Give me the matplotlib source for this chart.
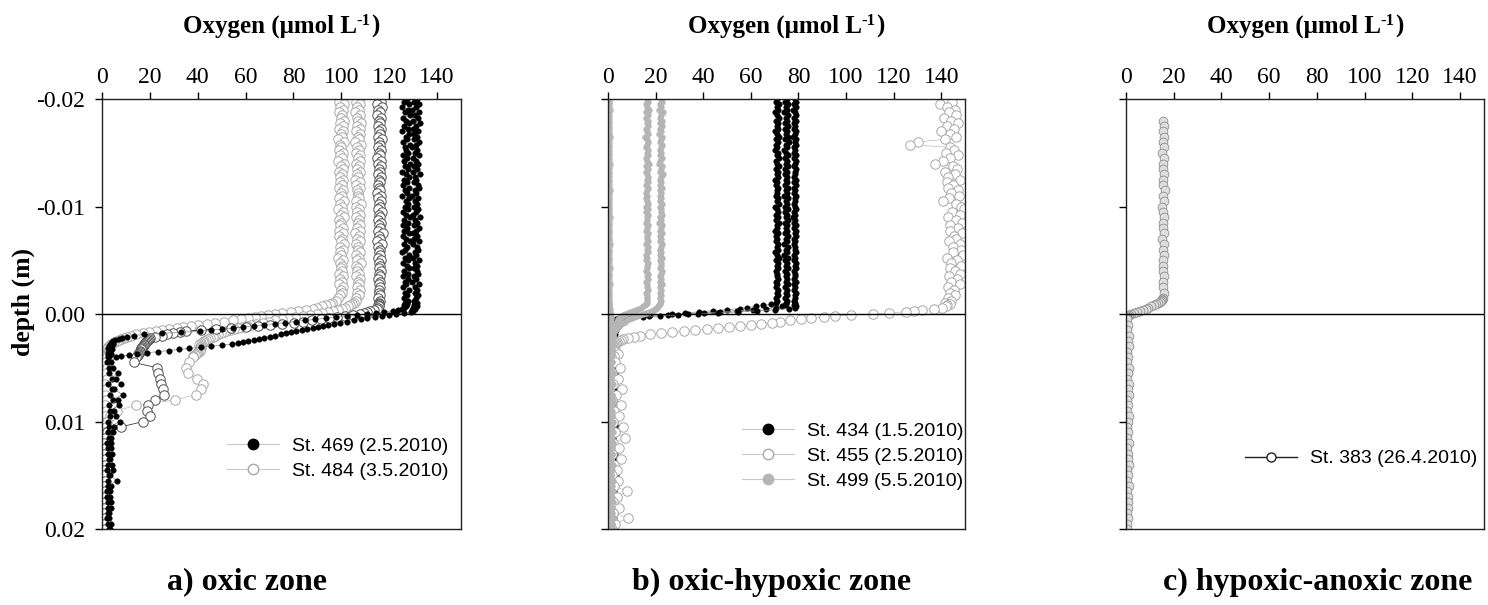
import numpy as np
import matplotlib
matplotlib.use("Agg")
import matplotlib.pyplot as plt
from matplotlib.lines import Line2D

plt.rcParams['font.family'] = 'Liberation Serif'
plt.rcParams['axes.unicode_minus'] = False

# ---------------- data (depth in mm, oxygen in umol/L) ----------------
depth_mm = [
    -20.0, -19.75, -19.5, -19.25, -19.0, -18.75, -18.5, -18.25,
    -18.0, -17.75, -17.5, -17.25, -17.0, -16.75, -16.5, -16.25,
    -16.0, -15.75, -15.5, -15.25, -15.0, -14.75, -14.5, -14.25,
    -14.0, -13.75, -13.5, -13.25, -13.0, -12.75, -12.5, -12.25,
    -12.0, -11.75, -11.5, -11.25, -11.0, -10.75, -10.5, -10.25,
    -10.0, -9.75, -9.5, -9.25, -9.0, -8.75, -8.5, -8.25,
    -8.0, -7.75, -7.5, -7.25, -7.0, -6.75, -6.5, -6.25,
    -6.0, -5.75, -5.5, -5.25, -5.0, -4.75, -4.5, -4.25,
    -4.0, -3.75, -3.5, -3.25, -3.0, -2.75, -2.5, -2.25,
    -2.0, -1.75, -1.5, -1.25, -1.0,
    -0.9, -0.8, -0.7, -0.6, -0.5, -0.4, -0.3, -0.2, -0.1, 0.0,
    0.1, 0.2, 0.3, 0.4, 0.5, 0.6, 0.7, 0.8, 0.9, 1.0,
    1.1, 1.2, 1.3, 1.4, 1.5, 1.6, 1.7, 1.8, 1.9, 2.0,
    2.1, 2.2, 2.3, 2.4, 2.5, 2.6, 2.7, 2.8, 2.9, 3.0,
    3.1, 3.2, 3.3, 3.4, 3.5, 3.6, 3.7, 3.8, 3.9, 4.0,
    4.5, 5.0, 5.5, 6.0, 6.5, 7.0, 7.5, 8.0, 8.5, 9.0,
    9.5, 10.0, 10.5, 11.0, 11.5, 12.0, 12.5, 13.0, 13.5, 14.0,
    14.5, 15.0, 15.5, 16.0, 16.5, 17.0, 17.5, 18.0, 18.5, 19.0,
    19.5, 20.0]

# Panel a: St. 469 (two replicate profiles)
st469_rep1 = [
    131.5, 130.2, 132.6, 131.0, 129.6, 132.3, 130.8, 131.9,
    130.1, 132.8, 131.2, 129.8, 132.0, 130.5, 131.7, 130.3,
    132.4, 131.1, 129.7, 131.8, 130.6, 132.5, 130.0, 131.4,
    132.1, 130.4, 131.6, 129.9, 132.7, 130.9, 131.3, 130.2,
    131.9, 132.6, 130.7, 131.2, 129.5, 132.2, 130.8, 131.6,
    130.3, 132.0, 131.4, 130.0, 132.9, 130.6, 131.8, 130.4,
    132.3, 131.0, 129.8, 131.7, 130.5, 132.4, 130.1, 131.5,
    132.0, 130.7, 131.3, 129.9, 132.6, 130.9, 131.8, 130.2,
    131.6, 132.1, 130.4, 131.2, 129.7, 132.3, 130.8, 131.5,
    130.6, 132.0, 131.1, 130.3, 131.7,
    131.2, 130.4, 131.6, 130.1, 130.8, 129.5, 130.0, 128.9, 126.2, 123.0,
    120.1, 116.8, 114.0, 110.9, 108.2, 105.1, 102.4, 99.6, 96.8, 94.5,
    92.4, 90.1, 88.0, 85.6, 83.5, 81.2, 79.1, 76.7, 74.6, 72.3,
    70.2, 67.8, 65.6, 63.5, 61.1, 59.0, 56.8, 54.5, 50.1, 45.6,
    41.2, 36.5, 32.1, 27.8, 23.2, 18.9, 14.8, 11.2, 8.1, 5.9,
    3.8, 2.9, 6.5, 4.2, 7.8, 5.1, 8.6, 4.4, 6.9, 3.5,
    5.8, 7.4, 3.1, 4.6, 2.8, 3.9, 2.5, 4.1, 3.3, 2.6,
    4.8, 3.0, 2.4, 3.7, 2.2, 3.2, 2.7, 3.9, 2.3, 3.1,
    2.6, 3.4]
st469_rep2 = [
    127.4, 126.0, 128.4, 125.5, 127.9, 126.7, 128.7, 125.8,
    127.2, 128.1, 126.3, 127.7, 125.2, 128.3, 126.9, 127.5,
    125.7, 128.5, 126.5, 127.1, 128.0, 125.6, 127.3, 126.2,
    128.6, 126.8, 127.8, 125.4, 127.0, 128.2, 126.1, 127.6,
    125.9, 128.4, 126.6, 127.4, 125.3, 128.1, 126.9, 127.7,
    126.4, 128.0, 125.6, 127.2, 128.5, 126.2, 127.9, 125.8,
    127.5, 126.3, 128.3, 125.7, 127.1, 128.6, 126.0, 127.6,
    126.8, 125.5, 128.2, 126.5, 127.8, 125.9, 127.3, 128.4,
    126.1, 127.7, 125.6, 128.0, 126.7, 127.2, 125.8, 128.1,
    126.6, 127.4, 126.0, 127.9, 126.8,
    127.5, 126.2, 127.1, 126.0, 125.4, 123.8, 121.5, 118.0, 114.6, 110.9,
    106.5, 102.2, 97.8, 93.6, 89.1, 84.7, 80.9, 76.4, 72.1, 67.8,
    63.5, 59.1, 54.8, 50.2, 45.6, 41.0, 33.2, 25.1, 17.4, 13.2,
    10.5, 8.4, 6.9, 5.6, 4.8, 4.1, 3.6, 4.4, 3.2, 2.9,
    3.5, 2.6, 4.0, 2.8, 3.3, 2.4, 3.8, 2.7, 3.1, 2.5,
    2.2, 4.6, 3.1, 5.9, 2.7, 4.3, 3.5, 6.8, 2.9, 5.2,
    3.4, 2.6, 4.9, 2.3, 3.6, 2.1, 3.8, 2.4, 2.9, 4.3,
    2.2, 3.5, 6.1, 2.5, 3.4, 2.1, 3.9, 2.6, 3.0, 2.2,
    3.6, 2.8]

# Panel a: St. 484 (three replicate profiles)
st484_rep1 = [
    100.2, 99.1, 101.0, 99.6, 100.7, 98.9, 100.4, 99.8,
    101.2, 99.3, 100.6, 99.0, 100.9, 99.7, 100.3, 98.8,
    101.1, 99.5, 100.0, 99.2, 100.8, 99.4, 100.1, 98.7,
    101.3, 99.9, 100.5, 99.1, 100.2, 99.6, 100.9, 99.3,
    100.4, 98.9, 100.7, 99.8, 100.1, 99.0, 101.0, 99.5,
    100.3, 98.8, 100.6, 99.7, 101.2, 99.2, 100.0, 99.4,
    100.8, 99.1, 100.5, 98.9, 100.2, 99.9, 101.1, 99.3,
    100.6, 99.6, 100.0, 98.8, 100.9, 99.4, 100.3, 99.8,
    100.1, 99.2, 100.7, 99.5, 100.4, 99.0, 100.8, 99.7,
    100.2, 99.6, 98.8, 97.6, 96.0,
    95.1, 93.6, 91.8, 90.0, 88.1, 85.2, 82.0, 78.9, 75.4, 72.1,
    69.3, 66.4, 63.8, 60.9, 58.0, 54.6, 51.0, 47.3, 43.9, 40.2,
    37.1, 34.0, 31.2, 28.1, 25.0, 22.4, 19.6, 17.0, 14.3, 12.1,
    10.6, 9.3, 8.1, 7.0, 6.1, 5.2, 4.5, 3.9, 3.4, 3.0,
    2.7, 2.5, 2.2, 2.4, 2.0, 2.3, 1.9, 2.1, 1.8, 2.0,
    1.7, 2.1, 1.5, 1.9, 1.4, 1.8, 1.3, 1.6, 1.2, 1.5,
    1.1, 1.4, 1.0, 1.3, 0.9, 1.2, 1.0, 1.3, 0.9, 1.1,
    1.0, 1.2, 0.8, 1.1, 0.9, 1.2, 1.0, 0.8, 1.1, 0.9,
    1.0, 0.8]
st484_rep2 = [
    107.3, 106.2, 108.0, 106.7, 107.5, 105.9, 107.8, 106.4,
    107.1, 108.2, 106.5, 107.6, 106.0, 107.9, 106.8, 107.2,
    105.8, 108.1, 106.6, 107.4, 106.3, 107.7, 106.9, 108.0,
    106.1, 107.3, 106.7, 107.9, 106.4, 107.0, 105.9, 107.6,
    106.2, 107.8, 106.5, 107.1, 106.8, 107.4, 106.3, 108.1,
    106.0, 107.5, 106.6, 107.9, 106.2, 107.2, 106.9, 107.7,
    106.4, 108.0, 105.8, 107.3, 106.7, 107.6, 106.1, 107.0,
    106.8, 107.9, 106.3, 107.4, 106.5, 108.2, 106.0, 107.1,
    106.6, 107.5, 106.2, 107.8, 106.9, 107.2, 106.4, 107.6,
    106.7, 107.3, 106.1, 106.3, 105.2,
    104.6, 103.8, 102.7, 101.5, 100.2, 98.4, 96.5, 94.3, 92.1, 89.8,
    86.7, 83.9, 80.8, 77.9, 75.1, 72.4, 69.6, 67.1, 64.5, 62.2,
    60.4, 58.7, 57.0, 55.2, 53.6, 52.0, 50.9, 49.7, 48.5, 47.3,
    46.2, 45.1, 44.3, 43.6, 42.8, 42.1, 41.5, 41.0, 40.6, 41.2,
    40.8, 41.5, 40.9, 41.1, 40.2, 39.6, 39.1, 38.7, 38.2, 37.9,
    36.4, 35.2, 35.8, 39.5, 42.1, 41.3, 39.2, 30.4, 14.1, 6.2,
    3.3, 2.1, 1.6, 1.3, 1.5, 1.1, 1.4, 1.0, 1.3, 1.2,
    0.9, 1.3, 1.1, 1.4, 1.0, 1.2, 0.9, 1.3, 1.1, 1.0,
    1.2, 1.0]
st484_rep3 = [
    115.8, 116.4, 115.1, 116.9, 115.5, 116.2, 115.0, 116.6,
    115.7, 116.1, 115.3, 116.7, 115.9, 116.3, 115.2, 116.8,
    115.6, 116.0, 115.4, 116.5, 115.8, 116.2, 115.1, 116.7,
    115.5, 116.4, 115.9, 116.1, 115.3, 116.6, 115.7, 116.0,
    115.4, 115.8, 116.2, 115.1, 116.7, 115.5, 116.4, 115.9,
    116.1, 115.3, 116.8, 115.6, 116.3, 115.2, 116.5, 115.8,
    116.0, 115.4, 117.6, 115.7, 116.2, 115.0, 116.9, 115.5,
    116.3, 115.8, 116.1, 115.2, 116.4, 115.9, 116.0, 115.6,
    116.6, 115.7, 116.0, 115.2, 116.3, 115.8, 116.1, 115.6,
    115.9, 116.2, 115.5, 116.0, 115.9,
    115.7, 115.4, 115.9, 115.2, 114.8, 113.6, 112.1, 110.8, 109.5, 108.0,
    105.0, 101.6, 98.2, 95.0, 91.3, 87.6, 84.0, 80.1, 75.2, 70.1,
    65.0, 60.0, 53.8, 47.5, 41.2, 35.0, 32.4, 29.8, 27.3, 24.9,
    22.1, 20.0, 19.6, 19.1, 18.8, 18.4, 18.1, 17.7, 17.4, 17.0,
    16.8, 16.5, 16.2, 16.0, 15.7, 15.4, 15.2, 14.9, 14.6, 14.3,
    13.2, 23.0, 23.6, 24.1, 24.5, 25.3, 26.0, 22.1, 19.3, 19.0,
    20.1, 17.2, 8.0, 2.1, 1.3, 1.0, 1.2, 0.9, 1.1, 1.3,
    1.0, 0.8, 1.2, 1.0, 1.1, 0.9, 1.3, 1.0, 0.8, 1.1,
    0.9, 1.2]

# Panel b: St. 434 (three replicate profiles)
st434_rep1 = [
    71.2, 70.4, 71.8, 70.9, 71.5, 70.2, 71.0, 71.7,
    70.6, 71.3, 70.8, 71.6, 70.3, 71.1, 71.9, 70.5,
    71.4, 70.7, 71.2, 70.1, 71.5, 70.9, 71.7, 70.4,
    71.0, 71.8, 70.6, 71.3, 70.8, 71.6, 70.3, 71.1,
    70.7, 71.5, 70.9, 71.2, 70.5, 71.4, 70.8, 71.7,
    70.2, 71.0, 71.6, 70.6, 71.3, 70.4, 71.8, 70.9,
    71.1, 70.3, 71.5, 70.7, 71.2, 70.5, 71.4, 70.8,
    71.6, 70.1, 71.0, 71.7, 70.6, 71.3, 70.9, 71.5,
    70.4, 71.2, 70.8, 71.6, 70.5, 71.1, 70.7, 71.4,
    70.9, 71.3, 70.6, 71.0, 70.4,
    68.5, 65.1, 62.0, 58.4, 55.3, 50.2, 44.0, 38.1, 32.5, 27.0,
    17.8, 11.2, 6.4, 4.5, 3.2, 2.4, 5.1, 2.0, 3.8, 1.7,
    4.2, 1.5, 2.9, 1.3, 3.5, 1.6, 2.4, 1.2, 2.8, 1.4,
    2.1, 1.1, 1.9, 1.3, 2.5, 1.0, 1.8, 1.2, 1.6, 1.1,
    1.4, 1.0, 1.7, 1.2, 1.5, 1.0, 1.3, 1.1, 1.6, 1.2,
    2.6, 1.4, 3.1, 1.8, 2.4, 1.2, 3.5, 1.6, 2.2, 1.3,
    2.8, 1.5, 2.0, 3.3, 1.4, 2.5, 1.7, 3.0, 1.3, 2.3,
    1.6, 3.4, 1.5, 2.1, 1.2, 2.7, 1.8, 3.2, 1.4, 2.4,
    3.0, 2.2]
st434_rep2 = [
    75.1, 74.3, 75.8, 74.7, 75.4, 74.1, 75.6, 74.9,
    75.3, 74.5, 75.7, 74.2, 75.0, 74.8, 75.5, 74.4,
    75.9, 74.6, 75.2, 74.0, 74.9, 75.6, 74.3, 75.1,
    74.7, 75.8, 74.5, 75.3, 74.2, 75.4, 74.8, 75.2,
    74.4, 75.7, 74.6, 75.0, 74.1, 75.5, 74.9, 75.3,
    74.5, 75.8, 74.3, 75.1, 74.7, 75.6, 74.2, 75.4,
    74.8, 75.2, 74.4, 75.7, 74.6, 75.0, 74.1, 75.5,
    74.9, 75.3, 74.0, 75.6, 74.5, 75.1, 74.7, 75.8,
    74.3, 75.4, 74.8, 75.0, 74.6, 75.7, 74.2, 75.3,
    74.7, 75.1, 74.5, 75.2, 74.9,
    74.6, 74.2, 73.1, 70.5, 66.2, 60.8, 54.1, 47.0, 40.2, 33.5,
    25.0, 17.1, 10.4, 6.1, 4.0, 2.7, 3.5, 1.9, 2.6, 1.5,
    2.2, 1.3, 3.0, 1.6, 2.0, 1.1, 1.8, 1.4, 2.3, 1.2,
    1.7, 1.0, 1.5, 1.9, 1.1, 1.6, 1.3, 1.8, 1.0, 1.4,
    1.2, 1.7, 1.0, 1.5, 1.3, 1.8, 1.1, 1.4, 1.0, 1.3,
    1.6, 2.4, 1.2, 2.0, 1.4, 2.6, 1.3, 1.9, 1.1, 2.2,
    1.5, 2.9, 1.3, 1.8, 1.0, 2.1, 1.4, 1.7, 2.6, 1.2,
    2.3, 1.5, 1.9, 1.1, 2.4, 1.3, 2.0, 1.5, 2.8, 1.4,
    1.8, 2.6]
st434_rep3 = [
    78.4, 79.0, 78.1, 78.8, 77.9, 78.6, 79.2, 78.3,
    78.9, 78.0, 78.7, 78.2, 79.1, 78.5, 77.8, 78.9,
    78.4, 79.0, 78.1, 78.6, 78.3, 78.8, 78.0, 79.2,
    78.5, 78.1, 78.9, 78.4, 78.7, 78.2, 79.0, 78.3,
    78.9, 78.3, 78.6, 78.0, 78.8, 78.4, 78.7, 78.1,
    78.5, 79.1, 78.2, 78.7, 77.9, 78.6, 78.3, 78.9,
    78.0, 78.8, 78.4, 79.0, 78.2, 78.6, 78.1, 78.7,
    78.5, 78.9, 78.3, 78.6, 78.0, 78.8, 78.4, 79.1,
    78.2, 78.7, 78.5, 78.0, 78.9, 78.3, 78.6, 78.1,
    78.8, 78.4, 78.7, 78.1, 78.5,
    78.6, 78.2, 78.8, 78.4, 76.0, 70.2, 62.5, 54.8, 46.1, 37.9,
    29.4, 21.8, 14.7, 9.2, 5.6, 3.8, 2.6, 4.3, 2.1, 3.2,
    1.7, 2.5, 1.4, 2.9, 1.5, 2.2, 1.2, 2.0, 1.3, 1.8,
    1.1, 1.6, 2.4, 1.2, 1.7, 1.3, 2.1, 1.0, 1.5, 1.9,
    1.1, 1.4, 2.2, 1.0, 1.6, 1.2, 1.9, 1.3, 1.5, 1.1,
    2.1, 1.3, 1.8, 2.9, 1.5, 1.9, 1.1, 2.7, 1.6, 1.2,
    2.0, 1.4, 3.6, 1.5, 2.2, 1.3, 1.9, 1.1, 2.4, 1.6,
    1.2, 2.1, 1.4, 2.9, 1.3, 1.8, 1.0, 2.2, 1.5, 1.9,
    2.3, 3.1]

# Panel b: St. 455
st455 = [
    141.8, 144.5, 139.3, 142.6, 145.9, 143.1, 146.4, 141.2,
    144.0, 147.1, 142.3, 145.5, 139.8, 143.7, 146.2, 141.6,
    130.2, 127.1, 143.9, 145.3, 142.0, 147.2, 143.6, 140.8,
    137.4, 144.8, 146.6, 141.5, 145.7, 143.0, 148.1, 142.4,
    145.1, 142.7, 146.9, 144.2, 147.5, 143.3, 140.6, 146.1,
    148.4, 149.6, 144.6, 147.8, 142.9, 146.3, 148.6, 143.5,
    147.0, 143.8, 148.9, 145.4, 146.2, 143.1, 147.7, 144.9,
    148.2, 145.0, 149.1, 142.5, 146.8, 144.3, 148.5, 143.9,
    145.6, 147.9, 143.2, 146.7, 144.0, 148.0, 142.8, 145.3,
    143.6, 146.0, 142.7, 144.3, 141.5,
    143.6, 142.4, 141.9, 140.5, 136.8, 132.0, 128.6, 125.1, 118.0, 111.2,
    102.1, 95.2, 90.6, 85.3, 81.0, 76.4, 72.1, 68.9, 64.2, 60.0,
    55.5, 50.8, 46.1, 41.5, 36.6, 31.8, 27.0, 22.4, 17.8, 13.4,
    11.0, 8.5, 6.3, 5.4, 4.6, 3.9, 3.4, 3.0, 2.6, 2.3,
    2.0, 1.8, 1.6, 1.5, 3.2, 1.4, 4.1, 1.2, 2.5, 1.3,
    2.8, 5.1, 1.7, 4.4, 2.1, 6.0, 3.3, 1.5, 5.6, 2.4,
    4.8, 1.9, 6.4, 3.0, 7.2, 2.2, 4.6, 1.6, 5.3, 2.7,
    3.9, 1.8, 4.2, 2.5, 8.1, 3.6, 1.9, 4.7, 2.3, 8.4,
    2.9, 1.7]

# Panel b: St. 499 (three replicate profiles)
st499_rep1 = [
    0.5, 0.3, 0.6, 0.4, 0.7, 0.5, 0.3, 0.6,
    0.4, 0.5, 0.6, 0.4, 0.5, 0.3, 0.7, 0.5,
    0.4, 0.6, 0.3, 0.5, 0.4, 0.6, 0.5, 0.3,
    0.7, 0.4, 0.5, 0.6, 0.3, 0.5, 0.4, 0.6,
    0.5, 0.3, 0.7, 0.4, 0.5, 0.6, 0.4, 0.5,
    0.3, 0.6, 0.5, 0.4, 0.7, 0.5, 0.3, 0.6,
    0.4, 0.5, 0.6, 0.3, 0.5, 0.4, 0.7, 0.5,
    0.6, 0.4, 0.5, 0.3, 0.6, 0.5, 0.4, 0.7,
    0.5, 0.3, 0.6, 0.4, 0.5, 0.7, 0.4, 0.5,
    0.6, 0.4, 0.5, 0.3, 0.5,
    0.5, 0.6, 0.4, 0.5, 0.7, 0.5, 0.6, 0.8, 0.7, 0.9,
    1.0, 0.8, 1.1, 0.9, 1.2, 1.0, 0.8, 1.1, 0.9, 1.0,
    1.2, 0.9, 1.1, 0.8, 1.0, 1.3, 0.9, 1.1, 1.0, 0.8,
    1.1, 0.9, 1.2, 1.0, 0.8, 1.1, 0.9, 1.3, 1.0, 1.2,
    0.9, 1.1, 1.0, 0.8, 1.2, 1.0, 0.9, 1.1, 1.3, 1.0,
    1.1, 0.9, 1.3, 1.0, 1.2, 0.8, 1.1, 1.4, 0.9, 1.2,
    1.0, 1.3, 0.9, 1.1, 1.5, 1.0, 1.2, 0.8, 1.1, 1.3,
    0.9, 1.2, 1.0, 1.4, 1.1, 0.8, 1.2, 1.0, 1.3, 0.9,
    1.1, 1.0]
st499_rep2 = [
    16.2, 16.8, 15.9, 16.5, 17.1, 16.0, 16.6, 15.8,
    16.9, 16.3, 16.7, 16.1, 16.4, 17.0, 15.7, 16.5,
    16.9, 16.2, 15.9, 16.6, 16.3, 16.8, 16.0, 16.5,
    17.2, 16.1, 16.7, 15.8, 16.4, 16.9, 16.2, 16.6,
    15.9, 16.8, 16.3, 16.0, 16.5, 16.1, 16.4, 16.7,
    16.0, 16.6, 15.8, 16.9, 16.3, 16.5, 16.1, 16.8,
    16.4, 15.9, 16.7, 16.2, 16.5, 17.0, 16.0, 16.6,
    16.3, 16.8, 15.9, 16.4, 16.1, 16.7, 16.2, 16.5,
    16.0, 16.6, 16.3, 16.9, 15.8, 16.4, 16.2, 16.7,
    16.1, 16.5, 16.3, 16.2, 16.4,
    16.0, 15.6, 14.8, 13.9, 12.8, 11.7, 10.5, 9.4, 8.3, 7.2,
    6.5, 6.0, 5.4, 4.9, 4.4, 4.0, 3.6, 3.3, 3.0, 2.7,
    2.5, 2.3, 2.1, 1.9, 1.7, 1.6, 1.5, 1.4, 1.3, 1.2,
    1.3, 1.1, 1.2, 1.4, 1.1, 1.3, 1.0, 1.2, 1.4, 1.1,
    1.3, 1.0, 1.2, 1.5, 1.1, 1.3, 1.0, 1.2, 1.4, 1.1,
    1.6, 1.2, 1.9, 1.4, 2.2, 1.3, 1.7, 2.0, 1.5, 1.8,
    1.3, 2.1, 1.6, 1.9, 1.4, 2.3, 1.5, 1.8, 1.2, 2.0,
    1.7, 1.4, 2.2, 1.6, 1.9, 1.3, 2.1, 1.5, 1.8, 2.4,
    1.6, 2.0]
st499_rep3 = [
    22.1, 22.6, 21.8, 22.4, 21.6, 22.9, 22.2, 21.7,
    22.5, 22.0, 22.7, 21.9, 22.3, 21.5, 22.8, 22.1,
    21.8, 22.6, 22.2, 21.7, 22.4, 21.9, 22.7, 22.0,
    21.6, 22.5, 22.2, 21.8, 22.9, 22.1, 21.7, 22.3,
    22.0, 22.6, 21.9, 22.4, 21.8, 22.2, 22.0, 22.6,
    21.7, 22.3, 22.1, 22.8, 21.9, 22.4, 21.6, 22.5,
    22.2, 21.8, 22.7, 22.0, 22.4, 21.9, 22.6, 22.1,
    21.7, 22.3, 22.0, 22.5, 21.8, 22.4, 22.2, 21.9,
    22.6, 22.1, 21.8, 22.3, 22.0, 22.5, 21.9, 22.2,
    21.7, 22.3, 22.0, 22.2, 22.0,
    21.8, 21.5, 21.0, 20.4, 19.8, 19.2, 18.5, 17.4, 16.1, 14.8,
    13.6, 12.3, 11.1, 10.0, 9.0, 8.0, 7.1, 6.3, 5.6, 5.0,
    4.5, 4.0, 3.6, 3.2, 2.9, 2.7, 2.5, 2.3, 2.1, 2.0,
    1.9, 1.8, 1.7, 1.6, 1.5, 1.6, 1.4, 1.5, 1.3, 1.4,
    1.6, 1.3, 1.5, 1.2, 1.4, 1.6, 1.3, 1.5, 1.2, 1.4,
    1.5, 1.3, 1.7, 1.2, 1.6, 1.4, 1.8, 1.3, 1.5, 1.2,
    1.6, 1.4, 1.3, 1.7, 1.2, 1.5, 1.4, 1.6, 1.3, 1.8,
    1.4, 1.2, 1.6, 1.3, 1.5, 1.7, 1.3, 1.4, 1.2, 1.6,
    1.5, 1.3]

# Panel c: St. 383
depth_c_mm = [
    -18.0, -17.5, -17.0, -16.5, -16.0, -15.5, -15.0, -14.5, -14.0, -13.5,
    -13.0, -12.5, -12.0, -11.5, -11.0, -10.5, -10.0, -9.5, -9.0, -8.5,
    -8.0, -7.5, -7.0, -6.5, -6.0, -5.5, -5.0, -4.5, -4.0, -3.5,
    -3.0, -2.5, -2.0, -1.5,
    -1.4, -1.3, -1.2, -1.1, -1.0, -0.9, -0.8, -0.7, -0.6, -0.5,
    -0.4, -0.3, -0.2, -0.1, 0.0, 0.1, 0.2, 0.3, 0.4, 0.5,
    1.0, 1.5, 2.0, 2.5, 3.0, 3.5, 4.0, 4.5, 5.0, 5.5,
    6.0, 6.5, 7.0, 7.5, 8.0, 8.5, 9.0, 9.5, 10.0, 10.5,
    11.0, 11.5, 12.0, 12.5, 13.0, 13.5, 14.0, 14.5, 15.0, 15.5,
    16.0, 16.5, 17.0, 17.5, 18.0, 18.5, 19.0, 19.5, 20.0]
st383 = [
    15.6, 15.9, 15.3, 16.1, 15.5, 15.8, 15.2, 16.0, 15.7, 15.4,
    15.9, 15.3, 15.6, 16.2, 15.5, 15.8, 15.1, 15.7, 16.0, 15.4,
    15.6, 15.9, 15.2, 15.8, 15.5, 16.1, 15.3, 15.7, 15.4, 15.9,
    15.6, 15.3, 15.8, 15.5,
    15.2, 15.0, 14.6, 14.1, 13.5, 12.7, 11.8, 10.6, 9.4, 8.2,
    7.0, 5.8, 4.6, 3.4, 2.3, 1.4, 0.9, 0.6, 0.5, 0.6,
    0.8, 0.5, 1.1, 0.7, 1.3, 0.6, 1.0, 0.4, 1.2, 0.8,
    0.5, 1.1, 0.7, 1.4, 0.6, 0.9, 0.3, 1.2, 0.8, 0.5,
    1.0, 0.6, 1.3, 0.4, 0.9, 0.7, 1.1, 0.5, 0.8, 0.6,
    1.2, 0.4, 0.9, 0.7, 1.0, 0.5, 0.8, 0.3, 0.6]

labels_a = ['St. 469 (2.5.2010)', 'St. 484 (3.5.2010)']
labels_b = ['St. 434 (1.5.2010)', 'St. 455 (2.5.2010)', 'St. 499 (5.5.2010)']
labels_c = ['St. 383 (26.4.2010)']
panel_names = ['a) oxic zone', 'b) oxic-hypoxic zone', 'c) hypoxic-anoxic zone']
xticks = [0, 20, 40, 60, 80, 100, 120, 140]
yticks = [-0.02, -0.01, 0.00, 0.01, 0.02]

# ---------------- styles ----------------
BLACK = dict(marker='o', ms=4.0, mfc='black', mec='black', mew=0.3,
             color='#8a8a8a', lw=0.5)
WHITE = dict(marker='o', ms=6.8, mfc='white', mec='#a8a8a8', mew=0.7,
             color='#bdbdbd', lw=0.5)
WHITE_DARK = dict(marker='o', ms=6.8, mfc='white', mec='#505050', mew=0.7,
                  color='#3a3a3a', lw=0.6)
GREY = dict(marker='o', ms=4.2, mfc='#b5b5b5', mec='#b5b5b5', mew=0.3,
            color='#b5b5b5', lw=1.4)
C383 = dict(marker='o', ms=6.3, mfc='#dedede', mec='#8e8e8e', mew=0.6,
            color='#6a6a6a', lw=0.5)


def draw(ax, o2, depth, style):
    assert len(o2) == len(depth)
    ax.plot(o2, np.asarray(depth) / 1000.0, **style)


fig = plt.figure(figsize=(14.88, 6.05), dpi=100)
W, H = 1488.0, 605.0
lefts = [102, 608, 1126]
widths = [359, 357, 358]
axes = []
for i in range(3):
    ax = fig.add_axes([lefts[i] / W, 1 - 529 / H, widths[i] / W, 430 / H])
    axes.append(ax)
ax_a, ax_b, ax_c = axes

# panel a
draw(ax_a, st484_rep1, depth_mm, WHITE)
draw(ax_a, st484_rep2, depth_mm, WHITE)
draw(ax_a, st484_rep3, depth_mm, WHITE_DARK)
draw(ax_a, st469_rep1, depth_mm, BLACK)
draw(ax_a, st469_rep2, depth_mm, BLACK)

# panel b
draw(ax_b, st434_rep1, depth_mm, BLACK)
draw(ax_b, st434_rep2, depth_mm, BLACK)
draw(ax_b, st434_rep3, depth_mm, BLACK)
draw(ax_b, st455, depth_mm, WHITE)
draw(ax_b, st499_rep1, depth_mm, GREY)
draw(ax_b, st499_rep2, depth_mm, GREY)
draw(ax_b, st499_rep3, depth_mm, GREY)

# panel c
draw(ax_c, st383, depth_c_mm, C383)

for i, ax in enumerate(axes):
    ax.axhline(0, color='black', lw=1.0, zorder=3)
    ax.set_xlim(0, 150)
    ax.set_ylim(0.02, -0.02)
    ax.xaxis.tick_top()
    ax.set_xticks(xticks)
    ax.set_xticklabels([str(t) for t in xticks])
    ax.set_yticks(yticks)
    if i == 0:
        ax.set_yticklabels(['%.2f' % t for t in yticks])
    else:
        ax.set_yticklabels([])
    ax.tick_params(axis='x', direction='out', length=5, width=1, pad=3,
                   labelsize=17, top=True, bottom=False)
    ax.tick_params(axis='y', direction='out', length=5, width=1, pad=7,
                   labelsize=17, left=True, right=False)
    for sp in ax.spines.values():
        sp.set_linewidth(1.0)
        sp.set_color('#222222')

ax_a.set_ylabel('depth (m)', fontsize=18.5, fontweight='bold')
ax_a.yaxis.set_label_coords(-0.187, 0.528)

# legends
leg_font = {'family': 'Liberation Sans', 'size': 14}
leg_kw = dict(loc='upper left', frameon=False, prop=leg_font,
              handlelength=2.7, handletextpad=0.65, labelspacing=0.38,
              borderpad=0, borderaxespad=0)
h_a = [Line2D([], [], color='#c8c8c8', lw=0.8, marker='o', ms=7.5,
              mfc='black', mec='black'),
       Line2D([], [], color='#c8c8c8', lw=0.8, marker='o', ms=7.5,
              mfc='white', mec='#a8a8a8')]
ax_a.legend(h_a, labels_a, bbox_to_anchor=(0.348, 0.214), **leg_kw)

h_b = [Line2D([], [], color='#c8c8c8', lw=0.8, marker='o', ms=7.5,
              mfc='black', mec='black'),
       Line2D([], [], color='#c8c8c8', lw=0.8, marker='o', ms=7.5,
              mfc='white', mec='#a8a8a8'),
       Line2D([], [], color='#c8c8c8', lw=0.8, marker='o', ms=7.5,
              mfc='#b5b5b5', mec='#b5b5b5')]
ax_b.legend(h_b, labels_b, bbox_to_anchor=(0.375, 0.249), **leg_kw)

h_c = [Line2D([], [], color='#222222', lw=1.0, marker='o', ms=6.5,
              mfc='white', mec='#222222')]
ax_c.legend(h_c, labels_c, bbox_to_anchor=(0.332, 0.184), **leg_kw)

# titles with superscript, built from pieces
renderer = fig.canvas.get_renderer()
centers = [281, 786, 1305]
base_y = 1 - 33 / H
for c in centers:
    t1 = fig.text(0, base_y, 'Oxygen (μmol L', fontsize=18,
                  fontweight='bold', ha='left', va='baseline')
    t2 = fig.text(0, base_y + 8 / H, '-1', fontsize=12,
                  fontweight='bold', ha='left', va='baseline')
    t3 = fig.text(0, base_y, ')', fontsize=18,
                  fontweight='bold', ha='left', va='baseline')
    w1 = t1.get_window_extent(renderer).width
    w2 = t2.get_window_extent(renderer).width
    w3 = t3.get_window_extent(renderer).width
    x0 = c - (w1 + w2 + w3) / 2
    t1.set_x(x0 / W)
    t2.set_x((x0 + w1) / W)
    t3.set_x((x0 + w1 + w2) / W)

name_x = [247, 772, 1318]
for x, name in zip(name_x, panel_names):
    fig.text(x / W, 1 - 582 / H, name, ha='center', va='center',
             fontsize=23, fontweight='bold')

fig.savefig('out.png', dpi=100)
